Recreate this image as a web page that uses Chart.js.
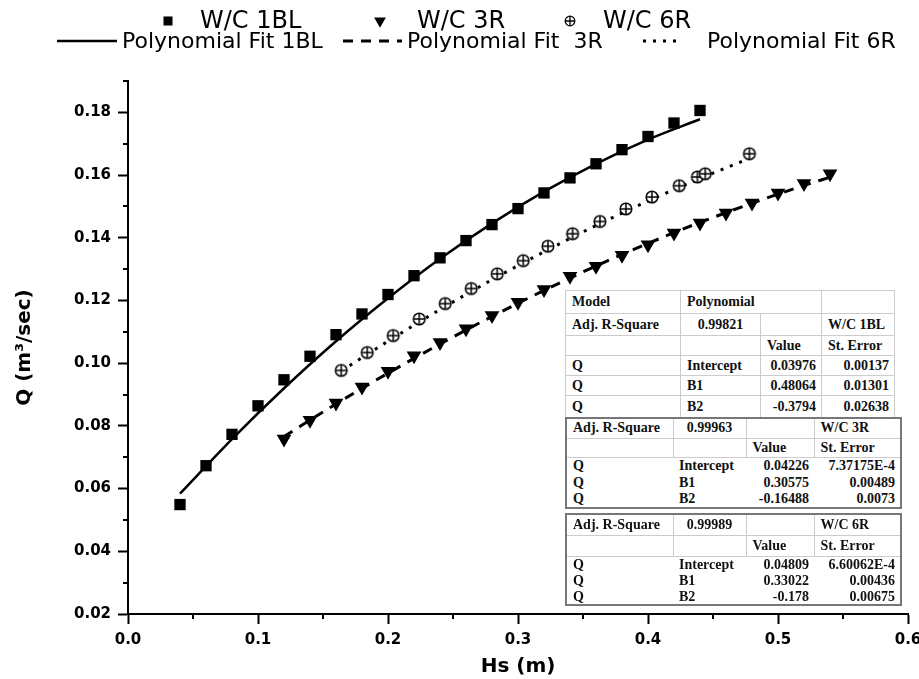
<!DOCTYPE html>
<html lang="en">
<head>
<meta charset="UTF-8">
<title>Q vs Hs</title>
<script src="https://cdn.jsdelivr.net/npm/chart.js"></script>
<style>
  body { margin: 0; background: #fff; }
  #wrap { position: relative; width: 919px; height: 679px; }
  .fit { position: absolute; left: 565px; border-collapse: collapse; table-layout: fixed;
         font-family: "Liberation Serif", "Times New Roman", serif; font-weight: bold; font-size: 14px;
         color: #111; background: #fff; }
  .fit td { padding: 0; white-space: nowrap; overflow: hidden; line-height: 1; }
  .b1 { top: 290px; width: 329px; border: 1px solid #999; }
  .b1 td { border: 1px solid #ccc; }
  .b2 { width: 335px; border: 2px solid #777; }
  .b2 tr.h td { border: 1px solid #ccc; }
  .l { text-align: left; padding-left: 6px !important; }
  .c { text-align: center; }
  .r { text-align: right; padding-right: 5px !important; }
</style>
</head>
<body>
<div id="wrap">
  <canvas id="chart" width="919" height="679"></canvas>

  <table class="fit b1">
    <colgroup><col style="width:115px"><col style="width:80px"><col style="width:61px"><col style="width:73px"></colgroup>
    <tr style="height:23px"><td class="l" style="padding-left:8px">Model</td><td class="l" colspan="2">Polynomial</td><td></td></tr>
    <tr style="height:22px"><td class="l" style="padding-left:8px">Adj. R-Square</td><td class="c">0.99821</td><td></td><td class="l">W/C 1BL</td></tr>
    <tr style="height:20px"><td></td><td></td><td class="l" style="padding-left:3px">Value</td><td class="l" style="padding-left:2px">St. Error</td></tr>
    <tr style="height:20px"><td class="l" style="padding-left:8px">Q</td><td class="l">Intercept</td><td class="r">0.03976</td><td class="r" style="padding-right:2px">0.00137</td></tr>
    <tr style="height:20px"><td class="l" style="padding-left:8px">Q</td><td class="l">B1</td><td class="r">0.48064</td><td class="r" style="padding-right:2px">0.01301</td></tr>
    <tr style="height:22px"><td class="l" style="padding-left:8px">Q</td><td class="l">B2</td><td class="r">-0.3794</td><td class="r" style="padding-right:2px">0.02638</td></tr>
  </table>

  <table class="fit b2" style="top:417px">
    <colgroup><col style="width:107px"><col style="width:73px"><col style="width:68px"><col style="width:87px"></colgroup>
    <tr class="h" style="height:20px"><td class="l">Adj. R-Square</td><td class="c">0.99963</td><td></td><td class="l" style="padding-left:2px">W/C 3R</td></tr>
    <tr class="h" style="height:19px"><td></td><td></td><td class="l" style="padding-left:5px">Value</td><td class="l" style="padding-left:2px">St. Error</td></tr>
    <tr style="height:17px"><td class="l">Q</td><td class="l" style="padding-left:5px">Intercept</td><td class="r">0.04226</td><td class="r" style="padding-right:7px">7.37175E-4</td></tr>
    <tr style="height:17px"><td class="l">Q</td><td class="l" style="padding-left:5px">B1</td><td class="r">0.30575</td><td class="r" style="padding-right:7px">0.00489</td></tr>
    <tr style="height:17px"><td class="l">Q</td><td class="l" style="padding-left:5px">B2</td><td class="r">-0.16488</td><td class="r" style="padding-right:7px">0.0073</td></tr>
  </table>

  <table class="fit b2" style="top:513px">
    <colgroup><col style="width:107px"><col style="width:73px"><col style="width:68px"><col style="width:87px"></colgroup>
    <tr class="h" style="height:21px"><td class="l">Adj. R-Square</td><td class="c">0.99989</td><td></td><td class="l" style="padding-left:2px">W/C 6R</td></tr>
    <tr class="h" style="height:21px"><td></td><td></td><td class="l" style="padding-left:5px">Value</td><td class="l" style="padding-left:2px">St. Error</td></tr>
    <tr style="height:17px"><td class="l">Q</td><td class="l" style="padding-left:5px">Intercept</td><td class="r">0.04809</td><td class="r" style="padding-right:7px">6.60062E-4</td></tr>
    <tr style="height:16px"><td class="l">Q</td><td class="l" style="padding-left:5px">B1</td><td class="r">0.33022</td><td class="r" style="padding-right:7px">0.00436</td></tr>
    <tr style="height:16px"><td class="l">Q</td><td class="l" style="padding-left:5px">B2</td><td class="r">-0.178</td><td class="r" style="padding-right:7px">0.00675</td></tr>
  </table>
</div>

<script>
const hs1BL = [0.04, 0.06, 0.08, 0.10, 0.12, 0.14, 0.16, 0.18, 0.20, 0.22, 0.24, 0.26, 0.28, 0.30, 0.32, 0.34, 0.36, 0.38, 0.40, 0.42, 0.44];
const q1BL  = [0.0549, 0.0673, 0.0773, 0.0864, 0.0947, 0.1022, 0.1091, 0.1157, 0.1219, 0.1279, 0.1336, 0.1391, 0.1442, 0.1493, 0.1543, 0.1591, 0.1636, 0.1681, 0.1723, 0.1766, 0.1806];

const hs3R = [0.12, 0.14, 0.16, 0.18, 0.20, 0.22, 0.24, 0.26, 0.28, 0.30, 0.32, 0.34, 0.36, 0.38, 0.40, 0.42, 0.44, 0.46, 0.48, 0.50, 0.52, 0.54];
const q3R  = [0.0758, 0.0818, 0.0873, 0.0924, 0.0974, 0.1024, 0.1066, 0.1110, 0.1152, 0.1194, 0.1235, 0.1277, 0.1309, 0.1344, 0.1378, 0.1415, 0.1447, 0.1479, 0.1511, 0.1543, 0.1573, 0.1604];

const hs6R = [0.164, 0.184, 0.204, 0.224, 0.244, 0.264, 0.284, 0.304, 0.323, 0.342, 0.363, 0.383, 0.403, 0.424, 0.438, 0.444, 0.478];
const q6R  = [0.0977, 0.1034, 0.1088, 0.1141, 0.1190, 0.1238, 0.1285, 0.1327, 0.1373, 0.1413, 0.1452, 0.1492, 0.1530, 0.1566, 0.1594, 0.1604, 0.1668];

// fitted curves, read at a few points along each line
const fitHs1BL = [0.04, 0.08, 0.12, 0.16, 0.20, 0.24, 0.28, 0.32, 0.36, 0.40, 0.44];
const fitQ1BL  = [0.0584, 0.0758, 0.0920, 0.1070, 0.1207, 0.1333, 0.1446, 0.1547, 0.1636, 0.1713, 0.1778];
const fitHs3R = [0.12, 0.16, 0.20, 0.24, 0.28, 0.32, 0.36, 0.40, 0.44, 0.48, 0.52, 0.54];
const fitQ3R  = [0.0766, 0.0870, 0.0968, 0.1061, 0.1149, 0.1232, 0.1310, 0.1382, 0.1449, 0.1510, 0.1567, 0.1593];
const fitHs6R = [0.164, 0.20, 0.24, 0.28, 0.32, 0.36, 0.40, 0.44, 0.478];
const fitQ6R  = [0.0975, 0.1070, 0.1171, 0.1266, 0.1355, 0.1439, 0.1517, 0.1589, 0.1653];

// axis ticks
const xTicks = [0.0, 0.1, 0.2, 0.3, 0.4, 0.5, 0.6];
const xMinor = [0.05, 0.15, 0.25, 0.35, 0.45, 0.55];
const yTicks = [0.02, 0.04, 0.06, 0.08, 0.10, 0.12, 0.14, 0.16, 0.18];
const yMinor = [0.03, 0.05, 0.07, 0.09, 0.11, 0.13, 0.15, 0.17, 0.19];

const pts = (xs, ys) => xs.map((x, i) => ({ x: x, y: ys[i] }));

// circle with a plus inside, like the 6R marker
function circlePlus(r, lw) {
    const c = document.createElement('canvas');
    const s = Math.ceil(r * 2 + 4);
    c.width = s; c.height = s;
    const g = c.getContext('2d');
    const m = s / 2;
    g.fillStyle = '#fff';
    g.strokeStyle = '#000';
    g.lineWidth = lw;
    g.beginPath(); g.arc(m, m, r, 0, Math.PI * 2); g.fill(); g.stroke();
    g.beginPath();
    g.moveTo(m - r, m); g.lineTo(m + r, m);
    g.moveTo(m, m - r); g.lineTo(m, m + r);
    g.stroke();
    return c;
}
const plusMark = circlePlus(5.8, 1.5);
const plusMarkSmall = circlePlus(4.8, 1.3);

const datasets = [
    { label: 'W/C 1BL', data: pts(hs1BL, q1BL), showLine: false, pointStyle: 'rect', pointRadius: 8,
      backgroundColor: '#000', borderColor: '#000', borderWidth: 0 },
    { label: 'W/C 3R', data: pts(hs3R, q3R), showLine: false, pointStyle: 'triangle', rotation: 180, pointRadius: 8.5,
      backgroundColor: '#000', borderColor: '#000', borderWidth: 0 },
    { label: 'W/C 6R', data: pts(hs6R, q6R), showLine: false, pointStyle: plusMark, pointRadius: 6,
      backgroundColor: '#fff', borderColor: '#000', borderWidth: 1 },
    { label: 'Polynomial Fit 1BL', data: pts(fitHs1BL, fitQ1BL), showLine: true, pointRadius: 0,
      borderColor: '#000', borderWidth: 2.5, cubicInterpolationMode: 'monotone' },
    { label: 'Polynomial Fit  3R', data: pts(fitHs3R, fitQ3R), showLine: true, pointRadius: 0,
      borderColor: '#000', borderWidth: 3, borderDash: [10, 8], cubicInterpolationMode: 'monotone' },
    { label: 'Polynomial Fit 6R', data: pts(fitHs6R, fitQ6R), showLine: true, pointRadius: 0,
      borderColor: '#000', borderWidth: 3, borderDash: [3, 7], cubicInterpolationMode: 'monotone' }
];

// legend rows and minor ticks drawn on the canvas
const legendSpots = [
    { mark: 168, text: 200, y: 21 },
    { mark: 380, text: 417, y: 21 },
    { mark: 570, text: 603, y: 21 },
    { from: 57, to: 117, text: 122, y: 41 },
    { from: 343, to: 402, text: 407, y: 41 },
    { from: 643, to: 682, text: 707, y: 41 }
];

const decor = {
    id: 'decor',
    afterDraw(chart) {
        const ctx = chart.ctx;
        const xs = chart.scales.x, ys = chart.scales.y;
        const area = chart.chartArea;
        ctx.save();
        ctx.strokeStyle = '#000';
        ctx.lineWidth = 2;
        ctx.beginPath();
        yMinor.forEach(v => {
            const p = Math.round(ys.getPixelForValue(v));
            ctx.moveTo(area.left - 5, p); ctx.lineTo(area.left, p);
        });
        xMinor.forEach(v => {
            const p = Math.round(xs.getPixelForValue(v));
            ctx.moveTo(p, area.bottom); ctx.lineTo(p, area.bottom + 5);
        });
        ctx.stroke();

        // legend
        ctx.fillStyle = '#000';
        ctx.textBaseline = 'middle';
        chart.data.datasets.forEach((ds, i) => {
            const s = legendSpots[i];
            if (ds.showLine) {
                ctx.save();
                ctx.lineWidth = ds.borderWidth;
                ctx.setLineDash(ds.borderDash || []);
                ctx.beginPath();
                ctx.moveTo(s.from, s.y); ctx.lineTo(s.to, s.y);
                ctx.stroke();
                ctx.restore();
                ctx.font = '22px "DejaVu Sans"';
            } else {
                ctx.save();
                ctx.fillStyle = ds.backgroundColor;
                ctx.strokeStyle = ds.borderColor;
                const style = ds.pointStyle === plusMark ? plusMarkSmall : ds.pointStyle;
                Chart.helpers.drawPoint(ctx, { pointStyle: style, rotation: ds.rotation || 0,
                    radius: ds.pointRadius * 0.8, borderWidth: ds.borderWidth }, s.mark, s.y);
                ctx.restore();
                ctx.font = '24px "DejaVu Sans"';
            }
            ctx.fillText(ds.label, s.text, s.y + 1);
        });
        ctx.restore();
    }
};

const tickFont = { family: 'DejaVu Sans', size: 15, weight: 'bold' };
const titleFont = { family: 'DejaVu Sans', size: 20, weight: 'bold' };

new Chart(document.getElementById('chart'), {
    type: 'scatter',
    data: { datasets: datasets },
    options: {
        responsive: false,
        animation: false,
        layout: { padding: { top: 81, right: 11, left: 0, bottom: 0 } },
        plugins: { legend: { display: false }, tooltip: { enabled: false } },
        scales: {
            x: {
                type: 'linear', min: 0, max: 0.6,
                afterBuildTicks: s => { s.ticks = xTicks.map(v => ({ value: v })); },
                afterFit: s => { s.height = 65; s.paddingLeft = 0; s.paddingRight = 0; },
                ticks: { color: '#000', font: tickFont, padding: 7, maxRotation: 0, autoSkip: false,
                         callback: v => v.toFixed(1) },
                grid: { drawOnChartArea: false, tickLength: 10, tickWidth: 2, tickColor: '#000' },
                border: { color: '#000', width: 2 },
                title: { display: true, text: 'Hs (m)', color: '#000', font: titleFont, padding: { top: 0, bottom: 0 } }
            },
            y: {
                type: 'linear', min: 0.02, max: 0.19,
                afterBuildTicks: s => { s.ticks = yTicks.map(v => ({ value: v })); },
                afterFit: s => { s.width = 128; s.paddingTop = 0; s.paddingBottom = 0; },
                ticks: { color: '#000', font: tickFont, padding: 7, autoSkip: false,
                         callback: v => v.toFixed(2) },
                grid: { drawOnChartArea: false, tickLength: 10, tickWidth: 2, tickColor: '#000' },
                border: { color: '#000', width: 2 },
                title: { display: true, text: 'Q (m³/sec)', color: '#000', font: titleFont, padding: { top: 13, bottom: 0 } }
            }
        }
    },
    plugins: [decor]
});
</script>
</body>
</html>
